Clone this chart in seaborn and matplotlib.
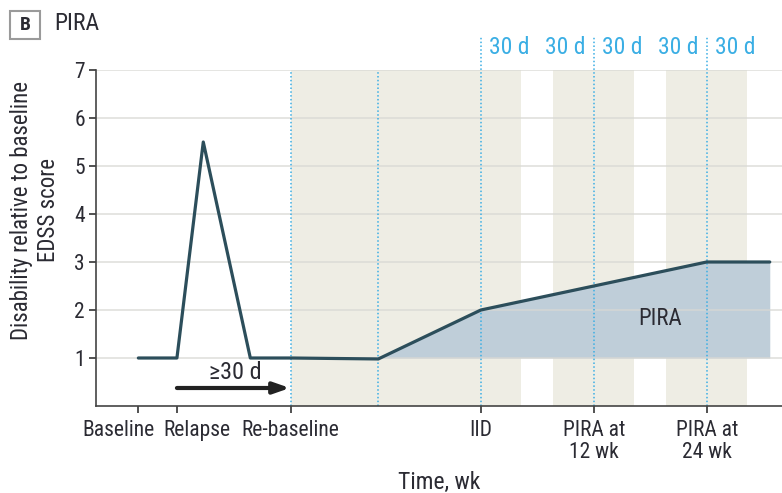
import matplotlib
matplotlib.use("Agg")
import matplotlib.pyplot as plt
import matplotlib.transforms as mtransforms
import seaborn as sns
import pandas as pd
from matplotlib.patches import FancyBboxPatch

# Data (time in weeks relative to IID)
line_x = [-36.4, -32.3, -29.5, -24.5, -20.2, -10.9, 0.0, 24.0, 30.7]
line_y = [1.0, 1.0, 5.5, 1.0, 1.0, 0.98, 2.0, 3.0, 3.0]
tick_pos = [-36.4, -32.3, -20.2, 0.0, 12.0, 24.0]
tick_labels = ["Baseline", "Relapse", "Re-baseline", "IID", "PIRA at\n12 wk", "PIRA at\n24 wk"]
dotted_low = [-20.2, -10.9]
dotted_high = [0.0, 12.0, 24.0]
confirm_window = 4.3  # 30 days in weeks
band_ranges = [(-20.2, 0.0 + confirm_window), (12.0 - confirm_window, 12.0 + confirm_window),
               (24.0 - confirm_window, 24.0 + confirm_window)]
label_sides = [(0.0, 1), (12.0, -1), (12.0, 1), (24.0, -1), (24.0, 1)]
fill_x = [-10.9, 0.0, 24.0, 30.7]
fill_y = [0.98, 2.0, 3.0, 3.0]

sns.set_theme(style="white")
plt.rcParams['font.family'] = ['Roboto Condensed', 'Roboto', 'DejaVu Sans']

fig = plt.figure(figsize=(7.82, 4.93), dpi=100)
ax = fig.add_axes([96 / 782, 1 - 406 / 493, 1 - 96 / 782, (406 - 70) / 493])

TEXT = "#2b2b33"
BLUE = "#3aaee4"
ax.set_xlim(-40.9, 32.0)
ax.set_ylim(0, 7)

for a, b in band_ranges:
    ax.axvspan(a, b, ymin=0, ymax=1, color="#eeede4", lw=0, zorder=0)

ax.fill_between(fill_x, [1] * len(fill_x), fill_y, color="#bfced9", lw=0, zorder=1)

for yv in range(1, 8):
    ax.axhline(yv, color="#d8d8d4", lw=1.2, zorder=1.5, alpha=0.8)

for xv in dotted_low:
    ax.plot([xv, xv], [0, 7], ls=(0, (1, 1.5)), color=BLUE, lw=1.1, zorder=2, clip_on=False)
for xv in dotted_high:
    ax.plot([xv, xv], [0, 7.7], ls=(0, (1, 1.5)), color=BLUE, lw=1.1, zorder=2, clip_on=False)

df = pd.DataFrame({"t": line_x, "y": line_y})
sns.lineplot(data=df, x="t", y="y", ax=ax, color="#2c4e5b", lw=2.3, zorder=3, sort=False)

for base, side in label_sides:
    tr = ax.transData + mtransforms.ScaledTranslation(side * 0.285, 0, fig.dpi_scale_trans)
    ax.text(base, 7.46, "30 d", color=BLUE, fontsize=17, ha="center", va="center",
            clip_on=False, transform=tr)

ax.text(19.1, 1.83, "PIRA", color=TEXT, fontsize=16.5, ha="center", va="center", zorder=4)

ax.annotate("", xy=(-20.3, 0.375), xytext=(-32.3, 0.375),
            arrowprops=dict(arrowstyle="-|>,head_length=0.8,head_width=0.28", color="#222222", lw=3.0,
                            shrinkA=0, shrinkB=0), zorder=4)
ax.text(-26.1, 0.69, "≥30 d", color=TEXT, fontsize=17.5, ha="center", va="center")

ax.set_xticks(tick_pos)
ax.set_xticklabels(tick_labels, fontsize=15.5, color=TEXT, linespacing=1.05)
ax.set_yticks(range(1, 8))
ax.set_yticklabels([str(i) for i in range(1, 8)], fontsize=15.5, color=TEXT)
ax.tick_params(axis="both", which="both", direction="out", length=5, width=1.2, color="#333333",
               bottom=True, left=True, pad=3)
ax.tick_params(axis="x", pad=5)
# shift first two tick labels like the reference
xl = ax.get_xticklabels()
xl[0].set_transform(xl[0].get_transform() + mtransforms.ScaledTranslation(-0.20, 0, fig.dpi_scale_trans))
xl[1].set_transform(xl[1].get_transform() + mtransforms.ScaledTranslation(0.20, 0, fig.dpi_scale_trans))

ax.set_xlabel("")
ax.set_ylabel("")
fig.text(439 / 782, 1 - 482 / 493, "Time, wk", fontsize=17, color=TEXT, ha="center", va="center")
fig.text(35 / 782, 1 - 210 / 493, "Disability relative to baseline\nEDSS score", fontsize=16.5,
         color=TEXT, ha="center", va="center", rotation=90, linespacing=1.2, multialignment="center")

for side in ["top", "right"]:
    ax.spines[side].set_visible(False)
for side in ["left", "bottom"]:
    ax.spines[side].set_color("#444444")
    ax.spines[side].set_linewidth(1.2)
ax.grid(False)

# Panel label
box = FancyBboxPatch((10 / 782, 1 - 39 / 493), 30 / 782, 28 / 493, boxstyle="square,pad=0",
                     transform=fig.transFigure, fc="white", ec="#9a9a9a", lw=1.5)
fig.patches.append(box)
fig.text(25 / 782, 1 - 25 / 493, "B", fontsize=14, fontweight="bold", color=TEXT, ha="center", va="center")
fig.text(54 / 782, 1 - 24 / 493, "PIRA", fontsize=17, color=TEXT, ha="left", va="center")

fig.savefig("out.png", dpi=100)
